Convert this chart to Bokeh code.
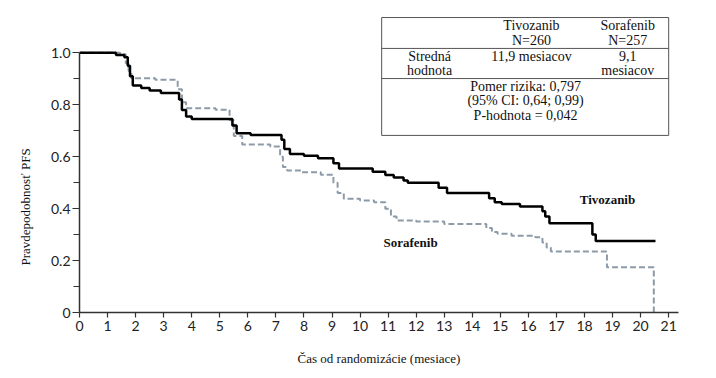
from bokeh.plotting import figure
from bokeh.models import Range1d, FixedTicker, Label, Title
from bokeh.embed import file_html
from bokeh.resources import INLINE

# Kaplan-Meier step data (months, PFS probability)
tivo_t = [0, 1.3, 1.6, 1.72, 1.8, 1.9, 2.2, 2.5, 2.9, 3.55, 3.65, 3.8, 4.0, 5.45, 5.6, 6.1,
          7.2, 7.3, 7.5, 8.0, 8.5, 9.05, 9.25, 10.45, 10.9, 11.2, 11.55, 11.7, 12.8, 13.1,
          14.6, 14.8, 15.05, 15.7, 16.5, 16.6, 16.75, 18.28, 18.4, 20.53]
tivo_s = [1.0, 0.992, 0.983, 0.95, 0.91, 0.874, 0.865, 0.855, 0.845, 0.82, 0.78, 0.755, 0.745,
          0.72, 0.69, 0.684, 0.665, 0.63, 0.61, 0.604, 0.594, 0.575, 0.555, 0.542, 0.53, 0.52,
          0.508, 0.50, 0.48, 0.46, 0.44, 0.425, 0.418, 0.408, 0.39, 0.37, 0.344, 0.30, 0.275, 0.275]

sora_t = [0, 1.45, 1.65, 1.75, 1.85, 2.7, 3.5, 3.65, 3.8, 4.85, 5.35, 5.5, 5.8, 6.8, 7.15, 7.25,
          7.4, 7.9, 8.6, 9.05, 9.2, 9.42, 10.0, 10.5, 10.9, 11.1, 11.3, 12.0, 13.0, 14.5, 14.7,
          14.9, 15.4, 16.25, 16.5, 16.65, 16.8, 18.8, 20.47, 20.47]
sora_s = [1.0, 0.995, 0.96, 0.93, 0.902, 0.896, 0.86, 0.81, 0.787, 0.781, 0.74, 0.68, 0.647,
          0.639, 0.6, 0.56, 0.547, 0.54, 0.531, 0.50, 0.46, 0.438, 0.431, 0.425, 0.40, 0.37,
          0.354, 0.35, 0.341, 0.325, 0.31, 0.303, 0.296, 0.29, 0.27, 0.25, 0.235, 0.174, 0.174, 0.0]

x_ticks = list(range(0, 22))
y_ticks = [0, 0.2, 0.4, 0.6, 0.8, 1.0]
y_tick_labels = ["0", "0.2", "0.4", "0.6", "0.8", "1.0"]

x_title = "Čas od randomizácie (mesiace)"
y_title = "Pravdepodobnosť PFS"

table_header = ["Tivozanib", "N=260", "Sorafenib", "N=257"]
table_row = ["Stredná", "hodnota", "11,9 mesiacov", "9,1", "mesiacov"]
table_stats = ["Pomer rizika: 0,797", "(95% CI: 0,64; 0,99)", "P-hodnota = 0,042"]

serif = "Liberation Serif"

p = figure(width=708, height=370, output_backend="svg", toolbar_location=None,
           x_range=Range1d(0, 21.35), y_range=Range1d(0, 1.14),
           min_border_left=79, min_border_right=30, min_border_top=16, min_border_bottom=58)
p.outline_line_color = None
p.xgrid.visible = False
p.ygrid.visible = False
p.background_fill_color = "white"

axis_color = "#333333"
for ax in (p.xaxis[0], p.yaxis[0]):
    ax.axis_line_color = axis_color
    ax.axis_line_width = 1.5
    ax.major_tick_line_color = axis_color
    ax.minor_tick_line_color = axis_color
    ax.major_tick_line_width = 1.2
    ax.minor_tick_line_width = 1.2
    ax.major_label_text_font = "Lato"
    ax.major_label_text_font_size = "14px"
    ax.major_label_text_color = "#222222"

p.xaxis.ticker = FixedTicker(ticks=x_ticks)
p.xaxis.major_tick_in = 0
p.xaxis.major_tick_out = 5
p.xaxis.minor_tick_out = 0
p.xaxis.major_label_standoff = 3
p.xaxis.axis_label = x_title
p.xaxis.axis_label_text_font = serif
p.xaxis.axis_label_text_font_size = "13px"
p.xaxis.axis_label_text_font_style = "normal"
p.xaxis.axis_label_text_color = "#111111"
p.xaxis.axis_label_standoff = 17

p.yaxis.ticker = FixedTicker(ticks=y_ticks, minor_ticks=[0.1, 0.3, 0.5, 0.7, 0.9])
p.yaxis.bounds = (0, 1.0)
p.yaxis.major_label_overrides = {t: l for t, l in zip(y_ticks, y_tick_labels)}
p.yaxis.major_tick_in = 0
p.yaxis.major_tick_out = 7
p.yaxis.minor_tick_in = 0
p.yaxis.minor_tick_out = 6
p.yaxis.major_label_standoff = 2

p.add_layout(Title(text=y_title, align="left", offset=47, text_font=serif,
                   text_font_size="13px", text_font_style="normal", text_color="#111111",
                   standoff=29), "left")

# curves
p.step(sora_t, sora_s, mode="after", line_color="#8d9ba8", line_width=2, line_dash="6 3")
p.step(tivo_t, tivo_s, mode="after", line_color="black", line_width=2.5)

# table
tx0, tx1 = 10.77, 21.0
ty0, ty1 = 0.682, 1.136
p.quad(left=[tx0], right=[tx1], bottom=[ty0], top=[ty1], fill_color=None,
       line_color="#555555", line_width=1)
p.segment(x0=[tx0, tx0], x1=[tx1, tx1], y0=[1.017, 0.901], y1=[1.017, 0.901],
          line_color="#555555", line_width=1)

def txt(s, x, y, bold=False, size="14px"):
    p.add_layout(Label(x=x, y=y, text=s, text_font=serif, text_font_size=size,
                       text_align="center", text_baseline="middle",
                       text_font_style="bold" if bold else "normal", text_color="#111111"))

txt(table_header[0], 16.11, 1.105)
txt(table_header[1], 16.11, 1.047)
txt(table_header[2], 19.54, 1.105)
txt(table_header[3], 19.54, 1.047)
txt(table_row[0], 12.48, 0.986)
txt(table_row[1], 12.48, 0.932)
txt(table_row[2], 16.11, 0.986)
txt(table_row[3], 19.54, 0.986)
txt(table_row[4], 19.54, 0.932)
for s, yy in zip(table_stats, [0.870, 0.816, 0.759]):
    txt(s, 15.9, yy)

# curve labels
txt("Tivozanib", 18.82, 0.435, bold=True, size="13px")
txt("Sorafenib", 11.8, 0.27, bold=True, size="13px")

open("out.html", "w").write(file_html(p, INLINE))
